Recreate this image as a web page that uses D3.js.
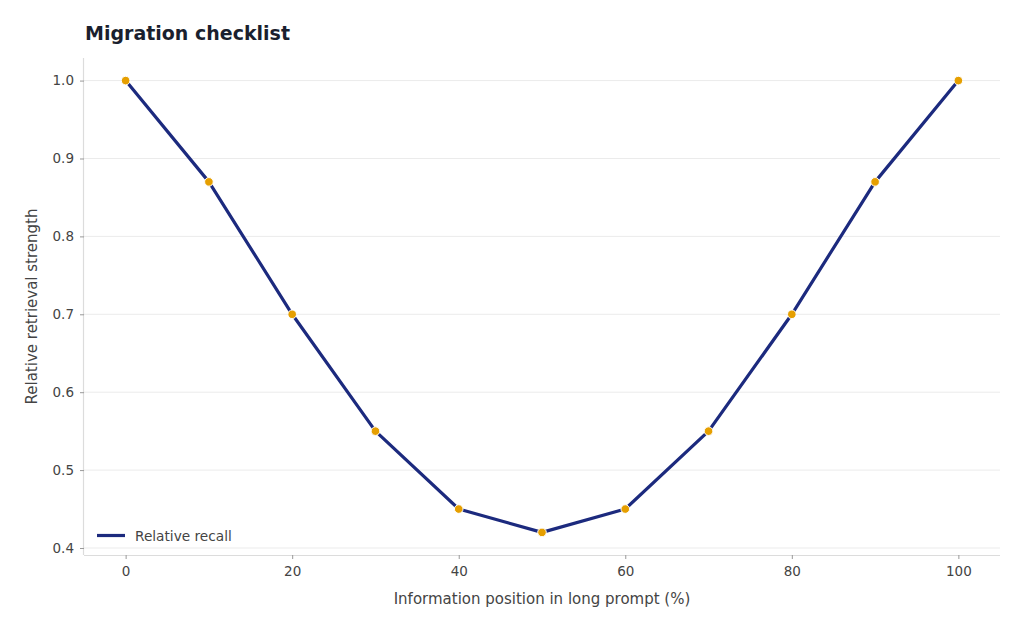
<!DOCTYPE html>
<html>
<head>
<meta charset="utf-8">
<script src="https://cdn.jsdelivr.net/npm/d3@7"></script>
<style>
  html, body { margin: 0; padding: 0; background: #fff; }
  svg { display: block; font-family: "DejaVu Sans", sans-serif; }
</style>
</head>
<body>
<svg id="chart" width="1024" height="631"></svg>
<script>
const positions = [0, 10, 20, 30, 40, 50, 60, 70, 80, 90, 100];
const recall = [1.0, 0.87, 0.70, 0.55, 0.45, 0.42, 0.45, 0.55, 0.70, 0.87, 1.0];
const xTicks = [0, 20, 40, 60, 80, 100];
const yTicks = [0.4, 0.5, 0.6, 0.7, 0.8, 0.9, 1.0];
const titleText = "Migration checklist";
const xLabel = "Information position in long prompt (%)";
const yLabel = "Relative retrieval strength";
const seriesName = "Relative recall";

const svg = d3.select("#chart");
const L = 84, R = 1000, T = 58, B = 555;

const x = d3.scaleLinear().domain([-5, 105]).range([L, R]);
const y = d3.scaleLinear().domain([0.391, 1.029]).range([B, T]);

// gridlines
svg.append("g").selectAll("line").data(yTicks).join("line")
  .attr("x1", L).attr("x2", R)
  .attr("y1", d => y(d)).attr("y2", d => y(d))
  .attr("stroke", "#ebebeb").attr("stroke-width", 1);

// axes
const xAxis = svg.append("g").attr("transform", `translate(0,${B})`)
  .call(d3.axisBottom(x).tickValues(xTicks).tickFormat(d3.format("d")).tickSize(4).tickPadding(7));
const yAxis = svg.append("g").attr("transform", `translate(${L},0)`)
  .call(d3.axisLeft(y).tickValues(yTicks).tickFormat(d3.format(".1f")).tickSize(4).tickPadding(6));

[xAxis, yAxis].forEach(g => {
  g.select(".domain").attr("stroke", "#dcdcdc").attr("stroke-width", 1.2);
  g.selectAll(".tick line").attr("stroke", "#999").attr("stroke-width", 1);
  g.selectAll(".tick text").attr("fill", "#444").attr("font-size", 13.5)
    .attr("font-family", "DejaVu Sans, sans-serif");
});
xAxis.select(".domain").attr("d", `M${L},0.5H${R}`);
yAxis.select(".domain").attr("d", `M-0.5,${B}V${T}`);

// line
const data = positions.map((p, i) => ({ p, v: recall[i] }));
svg.append("path").datum(data)
  .attr("fill", "none").attr("stroke", "#1c2a7e").attr("stroke-width", 3.2)
  .attr("stroke-linejoin", "round")
  .attr("d", d3.line().x(d => x(d.p)).y(d => y(d.v)));

svg.append("g").selectAll("circle").data(data).join("circle")
  .attr("cx", d => x(d.p)).attr("cy", d => y(d.v)).attr("r", 4.3)
  .attr("fill", "#e69f00").attr("stroke", "#fff").attr("stroke-width", 1);

// legend
svg.append("line").attr("x1", 97).attr("x2", 125).attr("y1", 535.5).attr("y2", 535.5)
  .attr("stroke", "#1c2a7e").attr("stroke-width", 3.2);
svg.append("text").attr("x", 135).attr("y", 540.5).text(seriesName)
  .attr("font-size", 13.7).attr("fill", "#444");

// title & labels
svg.append("text").attr("x", 85).attr("y", 40).text(titleText)
  .attr("font-size", 19).attr("font-weight", "bold").attr("fill", "#1a1f2e");
svg.append("text").attr("x", (L + R) / 2).attr("y", 604).attr("text-anchor", "middle")
  .text(xLabel).attr("font-size", 15).attr("fill", "#444");
svg.append("text").attr("transform", `translate(37,${(T + B) / 2}) rotate(-90)`)
  .attr("text-anchor", "middle").text(yLabel).attr("font-size", 15).attr("fill", "#444");
</script>
</body>
</html>
